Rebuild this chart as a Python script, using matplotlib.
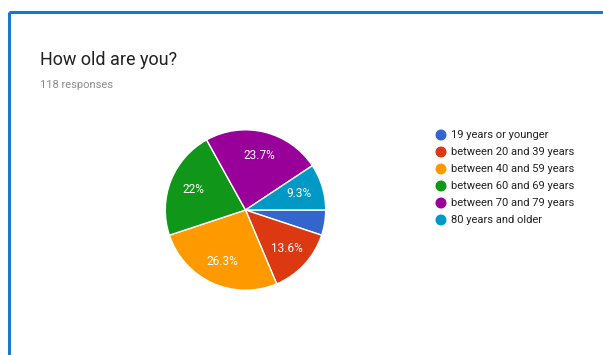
import matplotlib.pyplot as plt
from matplotlib.patches import Circle

# ответы на вопрос о возрасте
labels = ['19 years or younger', 'between 20 and 39 years', 'between 40 and 59 years',
          'between 60 and 69 years', 'between 70 and 79 years', '80 years and older']
counts = [6, 16, 31, 26, 28, 11]
colors = ['#3366cc', '#dc3912', '#ff9900', '#109618', '#990099', '#0099c6']
title = 'How old are you?'
subtitle = '118 responses'

W, H = 603, 355
plt.rcParams['font.family'] = ['Roboto', 'DejaVu Sans']

fig = plt.figure(figsize=(W / 100, H / 100), dpi=100)

# рамка карточки и подписи - в пиксельных координатах
bg = fig.add_axes([0, 0, 1, 1])
bg.set_xlim(0, W)
bg.set_ylim(H, 0)
bg.axis('off')
bg.plot([8.5, W], [12, 12], color='#1976d2', lw=2.2, solid_capstyle='butt')
bg.plot([8.5, 8.5], [12, H], color='#1976d2', lw=2.2, solid_capstyle='butt')
bg.text(40, 60, title, fontsize=13, color='#212121', va='center')
bg.text(40, 85, subtitle, fontsize=8, color='#8a8a8a', va='center')

for i, (lab, c) in enumerate(zip(labels, colors)):
    y = 135 + i * 17
    bg.add_patch(Circle((441, y), 4.8, color=c))
    bg.text(451, y, lab, fontsize=8, color='#222222', va='center')

# круговая диаграмма
cx, cy, r = 245.5, 210, 81
ax = fig.add_axes([(cx - r) / W, (H - cy - r) / H, 2 * r / W, 2 * r / H])


def pct(p):
    if p < 6:
        return ''
    s = f'{p:.1f}'
    return (s[:-2] if s.endswith('.0') else s) + '%'


wedges, texts, autotexts = ax.pie(counts, colors=colors, startangle=0, counterclock=False,
                                  autopct=pct, pctdistance=0.7, radius=1,
                                  wedgeprops=dict(edgecolor='white', linewidth=1))
for t in autotexts:
    t.set_color('white')
    t.set_fontsize(8.5)
ax.set_xlim(-1.01, 1.01)
ax.set_ylim(-1.01, 1.01)
ax.set_aspect('equal')

fig.savefig('out.png', dpi=100)
